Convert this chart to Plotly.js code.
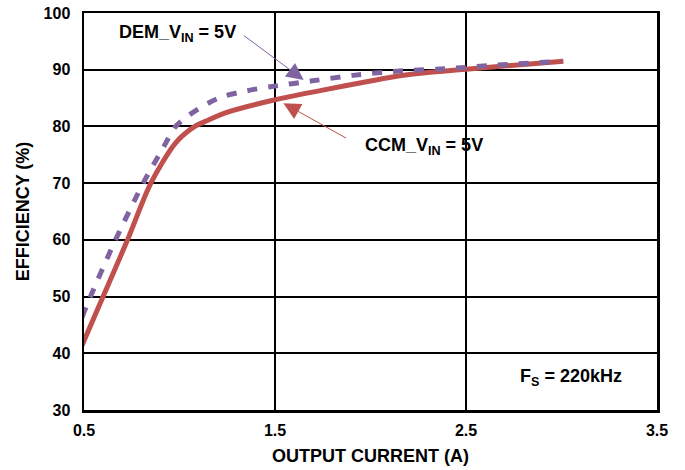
<!DOCTYPE html>
<html><head><meta charset="utf-8">
<script src="https://cdn.plot.ly/plotly-3.0.1.min.js"></script>
<style>body{margin:0;background:#fff}#c{width:685px;height:470px}</style>
</head><body><div id="c"></div>
<script>
var ccmX = [0.49, 0.60, 0.728, 0.85, 0.98, 1.08, 1.15, 1.24, 1.5, 1.75, 2.0, 2.13, 2.3, 2.5, 3.01];
var ccmY = [41.4, 50, 60, 70, 77.1, 80, 81.1, 82.4, 84.7, 86.4, 88.0, 88.8, 89.5, 90.1, 91.5];
var demX = [0.49, 0.534, 0.665, 0.81, 0.917, 0.98, 1.05, 1.15, 1.23, 1.355, 1.476, 1.687, 1.91, 2.12, 2.45, 2.66, 3.0];
var demY = [46.4, 50, 60, 70, 76.4, 80, 82.0, 84.1, 85.3, 86.3, 87.0, 88.0, 89.0, 89.7, 90.3, 90.8, 91.5];
var xTicks = [0.5, 1.5, 2.5, 3.5];
var yTicks = [30, 40, 50, 60, 70, 80, 90, 100];

var F = 'Liberation Sans, Arial, sans-serif';
var red = '#c0504d', purple = '#8064a2';
var traces = [
  {x: ccmX, y: ccmY, mode: 'lines', line: {color: red, width: 5, shape: 'spline', smoothing: 0.8}, hoverinfo: 'skip'},
  {x: demX, y: demY, mode: 'lines', line: {color: purple, width: 5, dash: '10px,11px', shape: 'spline', smoothing: 0.8}, hoverinfo: 'skip'}
];
var layout = {
  width: 685, height: 470,
  margin: {l: 84, r: 28, t: 13, b: 60},
  paper_bgcolor: '#fff', plot_bgcolor: '#fff',
  showlegend: false,
  font: {family: F, size: 16, color: '#000'},
  xaxis: {range: [0.5, 3.5], tickvals: xTicks, ticktext: xTicks.map(function(v){return '<b>'+v.toFixed(1)+'</b>';}),
    showgrid: true, gridcolor: '#000', gridwidth: 2, zeroline: false,
    showline: true, linecolor: '#000', linewidth: 2.5, mirror: true,
    ticks: 'outside', ticklen: 4, tickcolor: 'rgba(0,0,0,0)',
    title: {text: '<b>OUTPUT CURRENT (A)</b>', font: {size: 18}, standoff: 12}},
  yaxis: {range: [30, 100], tickvals: yTicks, ticktext: yTicks.map(function(v){return '<b>'+v+'</b>';}),
    showgrid: true, gridcolor: '#000', gridwidth: 2, zeroline: false,
    showline: true, linecolor: '#000', linewidth: 2.5, mirror: true,
    ticks: 'outside', ticklen: 8, tickcolor: 'rgba(0,0,0,0)',
    title: {text: '<b>EFFICIENCY (%)</b>', font: {size: 18}, standoff: 10}},
  annotations: [
    {x: 1.65, y: 88.2, ax: 1.33, ay: 96.2, axref: 'x', ayref: 'y', xref: 'x', yref: 'y', text: '',
     showarrow: true, arrowhead: 2, arrowsize: 3.4, arrowwidth: 1, arrowcolor: purple},
    {x: 0.99, y: 96.4, xref: 'x', yref: 'y', showarrow: false,
     text: '<b>DEM_V<sub>IN</sub> = 5V</b>', font: {size: 18}},
    {x: 1.544, y: 84.1, ax: 1.88, ay: 77.8, axref: 'x', ayref: 'y', xref: 'x', yref: 'y', text: '',
     showarrow: true, arrowhead: 2, arrowsize: 3.4, arrowwidth: 1, arrowcolor: red},
    {x: 2.28, y: 76.4, xref: 'x', yref: 'y', showarrow: false,
     text: '<b>CCM_V<sub>IN</sub> = 5V</b>', font: {size: 18}},
    {x: 3.05, y: 35.8, xref: 'x', yref: 'y', showarrow: false,
     text: '<b>F<sub>S</sub> = 220kHz</b>', font: {size: 18}}
  ]
};
Plotly.newPlot('c', traces, layout, {staticPlot: true});
</script></body></html>
